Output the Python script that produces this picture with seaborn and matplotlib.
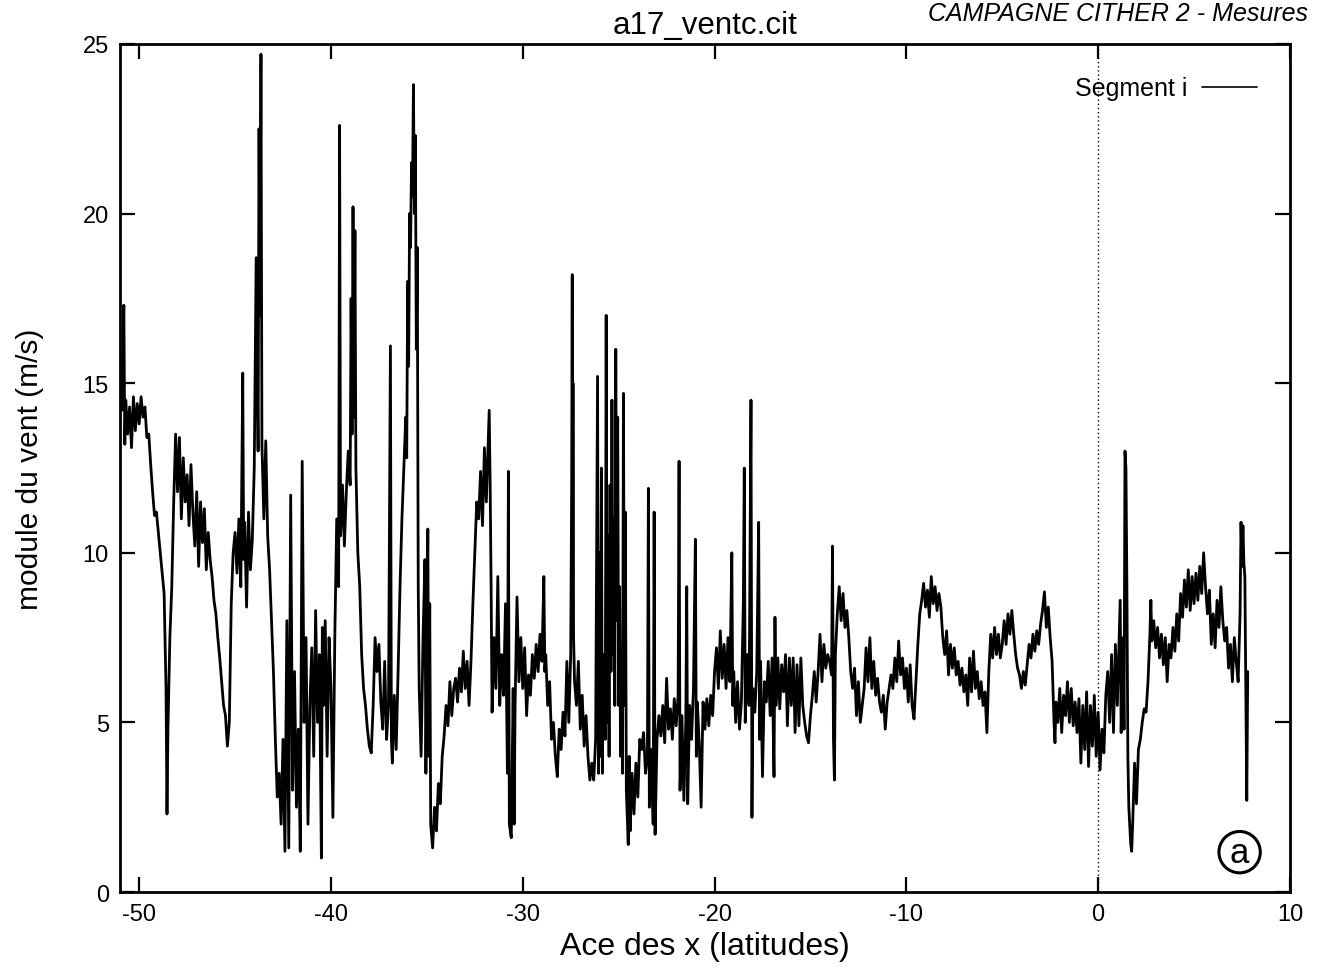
import pandas as pd
import seaborn as sns
import matplotlib
matplotlib.use("Agg")
import matplotlib.pyplot as plt

# (latitude, wind speed m/s), segment by segment
seg_south = [
    (-51.0, 15.0), (-50.9, 14.2), (-50.8, 17.3), (-50.75, 13.2), (-50.7, 14.5), (-50.6, 13.5),
    (-50.5, 14.3), (-50.4, 13.1), (-50.3, 14.6), (-50.2, 13.6), (-50.1, 14.4), (-50.0, 13.8),
    (-49.9, 14.6), (-49.8, 14.0), (-49.7, 14.3), (-49.6, 13.4), (-49.5, 13.5), (-49.4, 12.6),
    (-49.3, 11.8), (-49.2, 11.1), (-49.1, 11.2), (-49.0, 10.6), (-48.9, 10.0), (-48.8, 9.4),
    (-48.7, 8.8), (-48.6, 6.0), (-48.55, 2.3), (-48.5, 4.8), (-48.4, 7.5), (-48.3, 9.0),
    (-48.2, 11.5), (-48.1, 13.5), (-48.0, 11.8),
    (-47.9, 13.4), (-47.8, 11.0), (-47.7, 12.8), (-47.6, 11.5), (-47.5, 12.3), (-47.4, 10.8),
    (-47.3, 12.6), (-47.2, 11.2), (-47.1, 10.2), (-47.0, 11.8), (-46.9, 9.6), (-46.8, 11.5),
    (-46.7, 10.3), (-46.6, 11.3), (-46.5, 9.5), (-46.4, 10.6), (-46.3, 9.8), (-46.2, 9.3),
    (-46.1, 8.6), (-46.0, 8.2), (-45.9, 7.5), (-45.8, 6.9), (-45.7, 6.2), (-45.6, 5.5),
    (-45.5, 5.2), (-45.4, 4.3), (-45.3, 5.0), (-45.2, 8.5), (-45.1, 10.0),
]

seg_gusts_1 = [
    (-45.0, 10.6), (-44.9, 9.4), (-44.8, 11.0), (-44.7, 9.0), (-44.6, 15.3), (-44.55, 9.8),
    (-44.5, 10.9), (-44.4, 8.4), (-44.3, 11.2), (-44.2, 9.5), (-44.1, 10.4), (-44.0, 12.5),
    (-43.9, 18.7), (-43.8, 13.0), (-43.75, 22.5), (-43.7, 17.0), (-43.65, 24.7), (-43.6, 13.2),
    (-43.5, 11.0), (-43.4, 13.3), (-43.3, 10.5), (-43.2, 9.5), (-43.1, 8.0), (-43.0, 6.5),
    (-42.9, 4.5), (-42.8, 2.8), (-42.7, 3.5), (-42.6, 2.0), (-42.5, 4.5), (-42.4, 1.2),
    (-42.3, 8.0), (-42.2, 1.3), (-42.1, 11.7), (-42.0, 3.0), (-41.9, 6.5), (-41.8, 2.5),
    (-41.7, 4.8), (-41.6, 1.2), (-41.5, 12.7), (-41.4, 5.0), (-41.3, 7.5), (-41.2, 2.0),
    (-41.1, 5.5), (-41.0, 7.2), (-40.9, 4.0), (-40.8, 8.3), (-40.7, 5.0), (-40.6, 7.0),
    (-40.5, 1.0), (-40.45, 7.8), (-40.4, 5.5), (-40.3, 8.0), (-40.2, 4.0), (-40.1, 7.5),
    (-40.0, 6.0), (-39.9, 2.2), (-39.8, 7.5), (-39.7, 11.0), (-39.6, 9.0),
]

seg_gusts_2 = [
    (-39.55, 22.6), (-39.5, 10.5), (-39.4, 12.0), (-39.3, 10.2), (-39.2, 11.8), (-39.1, 13.0),
    (-39.0, 12.0), (-38.95, 17.5), (-38.9, 13.5), (-38.85, 20.2), (-38.8, 14.0), (-38.75, 19.5),
    (-38.7, 12.5), (-38.6, 10.0), (-38.5, 9.0), (-38.4, 7.0), (-38.3, 6.0), (-38.2, 5.5),
    (-38.1, 4.8), (-38.0, 4.3), (-37.9, 4.1), (-37.8, 5.5), (-37.7, 7.5), (-37.6, 6.5),
    (-37.5, 7.3), (-37.4, 5.6), (-37.3, 4.8), (-37.2, 6.8), (-37.1, 4.5), (-37.0, 5.5),
    (-36.9, 16.1), (-36.85, 4.5), (-36.8, 3.8), (-36.7, 5.8), (-36.6, 4.2), (-36.5, 6.5),
    (-36.4, 9.0), (-36.3, 11.0), (-36.2, 12.5), (-36.1, 14.0), (-36.05, 12.8), (-36.0, 18.0),
    (-35.95, 15.5), (-35.9, 20.0), (-35.85, 19.0), (-35.8, 21.5), (-35.75, 20.5), (-35.7, 23.8),
    (-35.65, 20.0), (-35.6, 22.3), (-35.55, 16.0), (-35.5, 19.0), (-35.45, 9.0), (-35.4, 6.0),
    (-35.3, 4.0), (-35.2, 7.5), (-35.1, 9.8), (-35.05, 3.5), (-35.0, 7.0), (-34.95, 10.7),
    (-34.9, 4.0), (-34.85, 8.5), (-34.8, 2.0), (-34.7, 1.3), (-34.6, 2.5), (-34.5, 1.8),
    (-34.4, 3.2), (-34.3, 2.6), (-34.2, 4.0), (-34.1, 4.6), (-34.0, 5.5), (-33.9, 4.9),
    (-33.8, 6.2), (-33.7, 5.2), (-33.6, 6.0), (-33.5, 6.3), (-33.4, 5.6), (-33.3, 6.6),
    (-33.2, 5.9), (-33.1, 7.1), (-33.0, 6.0), (-32.9, 6.8), (-32.8, 5.5), (-32.7, 6.8),
]

seg_gusts_3 = [
    (-32.6, 8.5), (-32.5, 10.0), (-32.4, 11.5), (-32.3, 11.0), (-32.2, 12.4), (-32.1, 10.8),
    (-32.0, 13.1), (-31.9, 11.5), (-31.8, 13.3), (-31.75, 14.2), (-31.7, 12.0), (-31.65, 9.0),
    (-31.6, 5.3), (-31.5, 7.5), (-31.4, 6.0), (-31.3, 9.3), (-31.2, 5.5), (-31.1, 7.0),
    (-31.0, 5.8), (-30.9, 8.5), (-30.8, 3.5), (-30.75, 12.4), (-30.7, 2.0), (-30.6, 1.6),
    (-30.5, 6.0), (-30.45, 2.0), (-30.4, 5.5), (-30.3, 8.7), (-30.2, 6.2), (-30.1, 7.5),
    (-30.0, 6.0), (-29.9, 7.2), (-29.8, 5.2), (-29.7, 6.4), (-29.6, 5.8), (-29.5, 7.0),
    (-29.4, 6.3), (-29.3, 7.3), (-29.2, 6.5), (-29.1, 7.6), (-29.0, 6.8), (-28.9, 9.3),
    (-28.85, 6.5), (-28.8, 7.0), (-28.7, 5.5), (-28.6, 6.2), (-28.5, 4.5), (-28.4, 5.0),
    (-28.3, 4.0), (-28.2, 3.4), (-28.1, 4.8), (-28.0, 4.2), (-27.9, 5.3), (-27.8, 4.6),
    (-27.7, 6.8), (-27.6, 5.0), (-27.5, 7.0), (-27.45, 12.0), (-27.42, 18.2), (-27.4, 9.0),
    (-27.38, 15.0), (-27.35, 7.5), (-27.3, 6.2), (-27.2, 5.5), (-27.1, 6.8), (-27.0, 4.8),
    (-26.9, 5.8), (-26.8, 4.3), (-26.7, 5.2), (-26.6, 4.0), (-26.5, 3.3), (-26.4, 3.8),
    (-26.3, 3.3), (-26.2, 4.5), (-26.1, 15.2), (-26.05, 3.5), (-26.0, 10.0), (-25.95, 4.0),
    (-25.9, 12.5), (-25.85, 3.5), (-25.8, 7.0), (-25.7, 4.5), (-25.65, 17.0), (-25.6, 5.0),
    (-25.55, 10.5), (-25.5, 4.0), (-25.45, 12.0), (-25.4, 6.5), (-25.35, 14.5), (-25.3, 7.0),
    (-25.25, 11.0), (-25.2, 5.5), (-25.15, 16.0), (-25.1, 8.0), (-25.05, 14.0), (-25.0, 5.5),
    (-24.95, 9.0), (-24.9, 4.0), (-24.85, 7.0), (-24.8, 3.5), (-24.75, 14.7), (-24.7, 5.5),
    (-24.65, 11.2), (-24.6, 3.0), (-24.5, 1.4), (-24.45, 4.0), (-24.4, 1.8), (-24.3, 3.5),
    (-24.2, 2.3), (-24.1, 3.8), (-24.0, 2.8), (-23.9, 4.5), (-23.8, 4.2), (-23.7, 4.7),
    (-23.6, 3.5), (-23.5, 4.0), (-23.45, 11.9), (-23.4, 2.5), (-23.3, 4.2), (-23.2, 2.0),
    (-23.15, 11.2), (-23.1, 1.7), (-23.0, 4.5),
]

seg_middle = [
    (-22.9, 5.2), (-22.8, 4.6), (-22.7, 5.5), (-22.6, 4.4), (-22.5, 6.3), (-22.4, 4.8),
    (-22.3, 5.4), (-22.2, 4.5), (-22.1, 5.7), (-22.0, 4.9), (-21.9, 5.8), (-21.85, 12.7),
    (-21.8, 3.0), (-21.7, 5.2), (-21.6, 2.7), (-21.5, 5.0), (-21.45, 9.0), (-21.4, 2.6),
    (-21.3, 5.5), (-21.2, 4.5), (-21.1, 6.0), (-21.0, 10.4), (-20.95, 4.0), (-20.9, 5.6),
    (-20.8, 4.4), (-20.7, 2.5), (-20.6, 5.6), (-20.5, 4.8), (-20.4, 5.7), (-20.3, 4.9),
    (-20.2, 5.8), (-20.1, 5.2), (-20.0, 6.5), (-19.9, 7.2), (-19.8, 6.0), (-19.7, 7.7),
    (-19.6, 6.3), (-19.5, 7.3), (-19.4, 6.0), (-19.3, 7.5), (-19.2, 6.2), (-19.1, 10.0),
    (-19.05, 5.5), (-19.0, 6.5), (-18.9, 5.0), (-18.8, 6.2), (-18.7, 4.8), (-18.6, 5.6),
    (-18.5, 8.5), (-18.45, 12.5), (-18.4, 5.0), (-18.3, 7.0), (-18.2, 5.5), (-18.1, 14.5),
    (-18.05, 2.2), (-18.0, 6.0), (-17.9, 5.3), (-17.8, 6.5), (-17.7, 10.9), (-17.65, 4.5),
    (-17.6, 6.8), (-17.5, 3.4), (-17.4, 6.2), (-17.3, 5.6), (-17.2, 6.8), (-17.1, 5.2),
    (-17.0, 6.9), (-16.9, 3.4), (-16.85, 8.1), (-16.8, 5.5), (-16.7, 6.9), (-16.6, 5.4),
    (-16.5, 6.7), (-16.4, 5.9), (-16.3, 7.0), (-16.2, 4.9), (-16.1, 6.9), (-16.0, 5.5),
    (-15.9, 6.9), (-15.8, 4.7), (-15.7, 6.7), (-15.6, 4.9), (-15.5, 6.9), (-15.4, 5.5),
    (-15.3, 5.0), (-15.2, 4.6), (-15.1, 4.4), (-15.0, 5.2), (-14.9, 5.8), (-14.8, 6.5),
    (-14.7, 5.6), (-14.6, 6.5), (-14.5, 7.6), (-14.4, 6.2), (-14.3, 7.3), (-14.2, 6.6),
    (-14.1, 7.0), (-14.0, 6.8), (-13.9, 6.4), (-13.85, 10.2), (-13.8, 4.5), (-13.75, 3.3),
    (-13.7, 7.0), (-13.6, 8.2), (-13.5, 9.0), (-13.4, 8.0), (-13.3, 8.8), (-13.2, 7.8),
    (-13.1, 8.3), (-13.0, 7.5), (-12.9, 6.5), (-12.8, 6.0), (-12.7, 6.6), (-12.6, 5.2),
    (-12.5, 6.2), (-12.4, 5.0), (-12.3, 5.5), (-12.2, 6.0), (-12.1, 7.2), (-12.0, 6.2),
    (-11.9, 7.5), (-11.8, 6.0), (-11.7, 6.8), (-11.6, 5.8), (-11.5, 6.3), (-11.4, 5.6),
    (-11.3, 5.3), (-11.2, 5.8), (-11.1, 4.8), (-11.0, 5.6), (-10.9, 6.0), (-10.8, 6.4),
    (-10.7, 6.0), (-10.6, 6.9), (-10.5, 6.2), (-10.4, 7.4), (-10.3, 6.4), (-10.2, 6.9),
    (-10.1, 6.0), (-10.0, 6.6), (-9.9, 5.6), (-9.8, 6.7), (-9.7, 5.5), (-9.6, 5.1),
]

seg_north = [
    (-9.5, 6.2), (-9.4, 7.3), (-9.3, 8.2), (-9.2, 8.6), (-9.1, 9.1), (-9.0, 8.4),
    (-8.9, 8.9), (-8.8, 8.1), (-8.7, 9.3), (-8.6, 8.5), (-8.5, 9.0), (-8.4, 8.3),
    (-8.3, 8.8), (-8.2, 8.4), (-8.1, 7.5), (-8.0, 7.0), (-7.9, 7.7), (-7.8, 6.4),
    (-7.7, 7.3), (-7.6, 6.6), (-7.5, 7.2), (-7.4, 6.4), (-7.3, 6.8), (-7.2, 6.1),
    (-7.1, 6.6), (-7.0, 5.9), (-6.9, 6.4), (-6.8, 5.5), (-6.7, 6.9), (-6.6, 5.9),
    (-6.5, 7.1), (-6.4, 6.0), (-6.3, 6.5), (-6.2, 5.7), (-6.1, 6.2), (-6.0, 5.5),
    (-5.9, 5.9), (-5.8, 4.7), (-5.7, 6.5), (-5.6, 7.6), (-5.5, 6.9), (-5.4, 7.8),
    (-5.3, 7.0), (-5.2, 7.6), (-5.1, 6.9), (-5.0, 7.3), (-4.9, 8.0), (-4.8, 7.3),
    (-4.7, 8.2), (-4.6, 7.6), (-4.5, 8.3), (-4.4, 7.6), (-4.3, 7.0), (-4.2, 6.6),
    (-4.1, 6.4), (-4.0, 6.0), (-3.9, 6.5), (-3.8, 6.1), (-3.7, 6.7), (-3.6, 7.3),
    (-3.5, 6.9), (-3.4, 7.6), (-3.3, 7.1), (-3.2, 7.7), (-3.1, 7.3), (-3.0, 7.9),
    (-2.9, 8.3), (-2.8, 8.85), (-2.7, 7.8), (-2.6, 8.4), (-2.5, 7.5), (-2.4, 6.8),
    (-2.3, 5.0), (-2.25, 4.4), (-2.2, 5.6), (-2.1, 5.0), (-2.0, 6.0), (-1.9, 4.7),
    (-1.8, 5.8), (-1.7, 5.2), (-1.6, 6.2), (-1.5, 5.0), (-1.4, 6.0), (-1.3, 4.9),
    (-1.2, 5.6), (-1.1, 4.7), (-1.0, 5.7), (-0.9, 3.8), (-0.8, 5.5), (-0.7, 4.2),
    (-0.6, 5.9), (-0.5, 3.7), (-0.4, 5.5), (-0.3, 4.3), (-0.2, 5.8), (-0.1, 4.0),
    (0.0, 5.3), (0.1, 3.6), (0.2, 4.8), (0.3, 4.1), (0.4, 5.8), (0.5, 6.5),
    (0.6, 5.0), (0.7, 7.0), (0.8, 4.7), (0.9, 7.3), (1.0, 5.5), (1.1, 7.6),
    (1.15, 8.6), (1.2, 4.7), (1.3, 7.5), (1.35, 4.8), (1.4, 13.0), (1.45, 12.5),
    (1.5, 9.0), (1.55, 4.0), (1.6, 2.5), (1.7, 1.4), (1.75, 1.2), (1.8, 2.0),
    (1.9, 3.8), (2.0, 2.6), (2.1, 4.2), (2.2, 4.5), (2.3, 5.0), (2.4, 5.4),
    (2.5, 5.3), (2.6, 6.2), (2.7, 7.6), (2.75, 8.6), (2.8, 7.4), (2.9, 8.0),
    (3.0, 7.2), (3.1, 7.8), (3.2, 6.9), (3.3, 7.6), (3.4, 6.7), (3.5, 7.5),
    (3.6, 6.2), (3.7, 7.3), (3.8, 6.9), (3.9, 7.8), (4.0, 7.1), (4.1, 8.2),
    (4.2, 7.4), (4.3, 8.8), (4.4, 8.1), (4.5, 9.2), (4.6, 8.4), (4.7, 9.5),
    (4.8, 8.3), (4.9, 9.3), (5.0, 8.5), (5.1, 9.4), (5.2, 8.6), (5.3, 9.6),
    (5.4, 8.8), (5.5, 10.0), (5.6, 9.0), (5.7, 8.2), (5.8, 8.9), (5.9, 7.3),
    (6.0, 8.2), (6.1, 7.2), (6.2, 8.6), (6.3, 7.8), (6.4, 9.0), (6.5, 8.0),
    (6.6, 7.4), (6.7, 7.8), (6.8, 6.6), (6.9, 7.3), (7.0, 6.2), (7.1, 7.5),
    (7.2, 6.8), (7.3, 6.2), (7.4, 8.2), (7.45, 10.9), (7.5, 9.6), (7.55, 10.8),
    (7.6, 9.7), (7.65, 9.3), (7.7, 6.0), (7.75, 2.7), (7.8, 6.5),
]

segments = [seg_south, seg_gusts_1, seg_gusts_2, seg_gusts_3, seg_middle, seg_north]
rows = [p for seg in segments for p in seg]
df = pd.DataFrame(rows, columns=["latitude", "vent"])

sns.set_theme(style="ticks")
plt.rcParams["font.family"] = ["Liberation Sans", "DejaVu Sans"]
plt.rcParams.update({
    "axes.linewidth": 2.0,
    "axes.unicode_minus": False,
    "text.color": "black",
    "axes.labelcolor": "black",
    "axes.edgecolor": "black",
    "xtick.color": "black",
    "ytick.color": "black",
})

fig = plt.figure(figsize=(13.23, 9.78), dpi=100)
ax = fig.add_axes([0.0907, 0.0869, 0.8843, 0.8671])

sns.lineplot(data=df, x="latitude", y="vent", sort=False, estimator=None,
             color="black", linewidth=2.0, label="Segment i", ax=ax)

# equator
ax.axvline(0, color="black", linestyle=(0, (1, 2)), linewidth=1.0)

ax.set_xlim(-51, 10)
ax.set_ylim(0, 25)
ax.set_xticks([-50, -40, -30, -20, -10, 0, 10])
ax.set_yticks([0, 5, 10, 15, 20, 25])
ax.tick_params(direction="in", length=11, width=1.6, top=True, right=True,
               labelsize=17, pad=8)

ax.set_xlabel("Ace des x (latitudes)", fontsize=23, labelpad=4)
ax.set_ylabel("module du vent (m/s)", fontsize=21.5, labelpad=28)
ax.set_title("a17_ventc.cit", fontsize=22.5, pad=8)

leg = ax.legend(loc="upper right", frameon=False, markerfirst=False,
                fontsize=18, handlelength=2.2, handletextpad=0.6,
                borderaxespad=0.9)
for line in leg.get_lines():
    line.set_linewidth(1.2)

fig.text(0.9887, 0.998, "CAMPAGNE CITHER 2 - Mesures", ha="right", va="top",
         fontsize=18, style="italic")

ax.text(0.957, 0.047, "a", transform=ax.transAxes, ha="center", va="center",
        fontsize=25, bbox=dict(boxstyle="circle,pad=0.12", fc="white", ec="black", lw=2.2))

sns.despine(ax=ax, top=False, right=False)
fig.savefig("out.png", dpi=100)
